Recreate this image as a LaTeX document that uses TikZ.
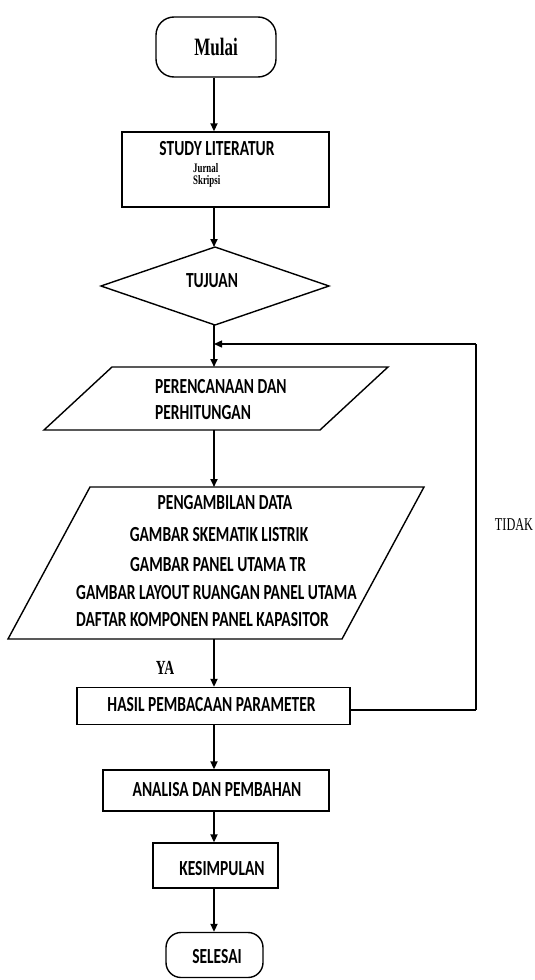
\documentclass[tikz,border=0pt]{standalone}
\usepackage{fontspec}
\usetikzlibrary{arrows.meta,calc}
\newfontfamily\sansc{Carlito}[FakeStretch=0.72]
\newfontfamily\serifc{Liberation Serif}[FakeStretch=0.68]
\begin{document}
\begin{tikzpicture}[x=1pt,y=-1pt,
  shp/.style={draw, line width=1.4pt, inner sep=0pt},
  inv/.style={draw=none, inner sep=0pt, outer sep=0pt},
  arr/.style={line width=1.9pt, -{Triangle[length=8pt,width=7pt]}},
  txt/.style={inner sep=0pt, font=\sansc\bfseries\fontsize{21.5}{24}\selectfont},
  stxt/.style={inner sep=0pt, font=\serifc\bfseries\fontsize{13}{15}\selectfont},
  ltxt/.style={inner sep=0pt, font=\serifc\fontsize{18}{20}\selectfont},
  ytxt/.style={inner sep=0pt, font=\serifc\bfseries\fontsize{20}{22}\selectfont}
]
\path[use as bounding box] (0,0) rectangle (535,980);
\coordinate (ax) at (214,0);

% Mulai
\node[shp, rounded corners=18pt, minimum width=120pt, minimum height=60pt,
      font=\serifc\bfseries\fontsize{25}{28}\selectfont] (mulai) at (216,47) {Mulai};

% Study literatur
\node[shp, minimum width=207pt, minimum height=75pt] (study) at (225.5,169.5) {};
\node[txt] (t-study) at (217,148.5) {STUDY LITERATUR};
\node[stxt, anchor=west] (t-jurnal) at (193,168) {Jurnal};
\node[stxt, anchor=west] (t-skripsi) at (193,181) {Skripsi};

% Tujuan (diamond)
\node[inv, minimum width=228pt, minimum height=78pt] (tuj) at (215,286) {};
\draw[line width=1.4pt] (tuj.north) -- (tuj.east) -- (tuj.south) -- (tuj.west) -- cycle;
\node[txt] (t-tuj) at (212,281) {TUJUAN};

% Perencanaan (parallelogram)
\node[inv, minimum width=208pt, minimum height=63pt] (plan) at (216,398.5) {};
\draw[line width=1.4pt] (plan.north west) -- ([xshift=68pt]plan.north east)
  -- (plan.south east) -- ([xshift=-68pt]plan.south west) -- cycle;
\node[txt, anchor=west] (t-plan1) at (155,387) {PERENCANAAN DAN};
\node[txt, anchor=west] (t-plan2) at (155,413) {PERHITUNGAN};

% Pengambilan data (parallelogram)
\node[inv, minimum width=252pt, minimum height=152pt] (data) at (216,563) {};
\draw[line width=1.4pt] (data.north west) -- ([xshift=82pt]data.north east)
  -- (data.south east) -- ([xshift=-82pt]data.south west) -- cycle;
\node[txt] (t-data1) at (225,503) {PENGAMBILAN DATA};
\node[txt] (t-data2) at (219,535) {GAMBAR SKEMATIK LISTRIK};
\node[txt] (t-data3) at (218,565) {GAMBAR PANEL UTAMA TR};
\node[txt, anchor=west] (t-data4) at (76,593) {GAMBAR LAYOUT RUANGAN PANEL UTAMA};
\node[txt, anchor=west] (t-data5) at (76,620) {DAFTAR KOMPONEN PANEL KAPASITOR};

% Hasil
\node[shp, minimum width=273pt, minimum height=37pt] (hasil) at (213.5,706) {};
\node[txt] (t-hasil) at (211.5,705) {HASIL PEMBACAAN PARAMETER};

% Analisa
\node[shp, minimum width=226pt, minimum height=41pt] (anal) at (216,790.5) {};
\node[txt] (t-anal) at (217,790) {ANALISA DAN PEMBAHAN};

% Kesimpulan
\node[shp, minimum width=125pt, minimum height=45pt] (kes) at (215.5,865.5) {};
\node[txt] (t-kes) at (222,869) {KESIMPULAN};

% Selesai
\node[shp, rounded corners=15pt, minimum width=97pt, minimum height=45pt] (sel) at (214.5,955) {};
\node[txt] (t-sel) at (217,957) {SELESAI};

% Labels
\node[ltxt] (tidak) at (514,525) {TIDAK};
\node[ytxt] (ya) at (165,668) {YA};

% Connectors
\draw[arr] (mulai.south -| ax) -- (study.north -| ax);
\draw[arr] (study.south -| ax) -- (tuj.north -| ax);
\draw[arr] (tuj.south -| ax) -- (plan.north -| ax);
\draw[arr] (plan.south -| ax) -- (data.north -| ax);
\draw[arr] (data.south -| ax) -- (hasil.north -| ax);
\draw[arr] (hasil.south -| ax) -- (anal.north -| ax);
\draw[arr] (anal.south -| ax) -- (kes.north -| ax);
\draw[arr] (kes.south -| ax) -- (sel.north -| ax);

% Feedback loop
\coordinate (fbb) at (476,710);
\coordinate (fbt) at (476,344);
\draw[line width=2.4pt] (hasil.east |- fbb) -- (fbb);
\draw[line width=1.1pt] (fbb) -- (fbt);
\draw[line width=1.4pt, -{Triangle[length=8pt,width=7pt]}] (fbt) -- (fbt -| ax);
\end{tikzpicture}
\end{document}
